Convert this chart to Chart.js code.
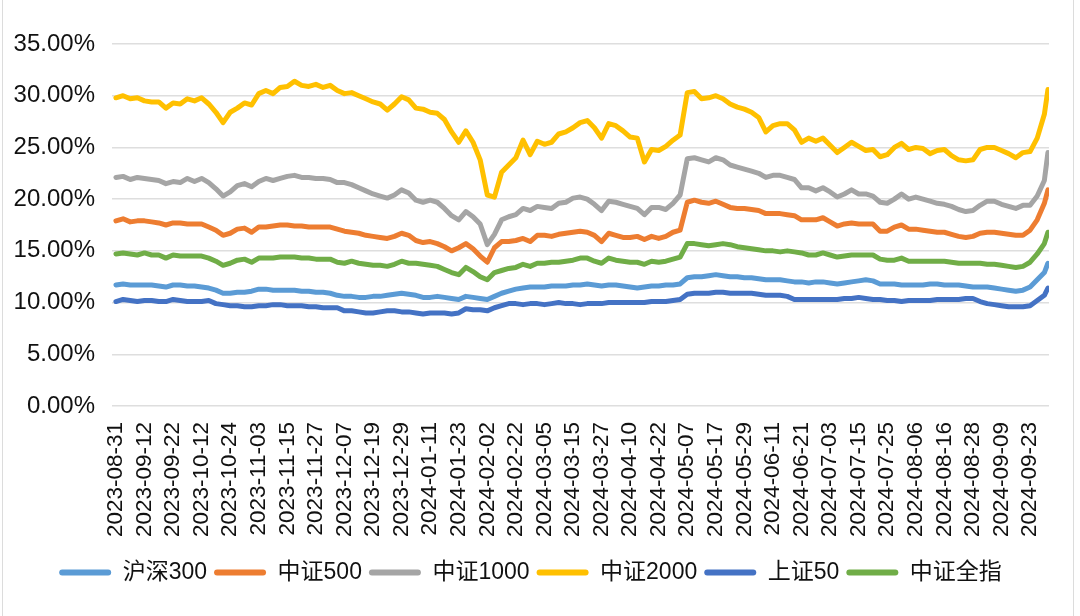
<!DOCTYPE html>
<html>
<head>
<meta charset="utf-8">
<script src="https://cdn.jsdelivr.net/npm/chart.js@4.4.1/dist/chart.umd.min.js"></script>
<style>
  html, body { margin: 0; padding: 0; background: #fff; }
  #wrap { position: relative; width: 1080px; height: 616px; }
  #frame { position: absolute; left: 2px; top: 0; width: 1070px; height: 616px;
           border-left: 1.5px solid #dcdcdc; border-right: 1.5px solid #dcdcdc; pointer-events: none; }
  canvas { position: absolute; left: 0; top: 0; }
</style>
</head>
<body>
<div id="wrap">
  <canvas id="myChart" width="1080" height="616"></canvas>
  <div id="frame"></div>
</div>
<script>
// tick labels, one every 8 trading days
const dateLabels = ['2023-08-31','2023-09-12','2023-09-22','2023-10-12','2023-10-24','2023-11-03',
  '2023-11-15','2023-11-27','2023-12-07','2023-12-19','2023-12-29','2024-01-11','2024-01-23',
  '2024-02-02','2024-02-22','2024-03-05','2024-03-15','2024-03-27','2024-04-10','2024-04-22',
  '2024-05-07','2024-05-17','2024-05-29','2024-06-11','2024-06-21','2024-07-03','2024-07-15',
  '2024-07-25','2024-08-06','2024-08-16','2024-08-28','2024-09-09','2024-09-23'];

const seriesNames = ['沪深300', '中证500', '中证1000', '中证2000', '上证50', '中证全指'];
const seriesColors = ['#5B9BD5', '#ED7D31', '#A5A5A5', '#FFC000', '#4472C4', '#70AD47'];

// values (%) read every 2 trading days, last one is 2024-09-30
const hs300 = [11.7,11.8,11.7,11.7,11.7,11.7,11.6,11.5,11.7,11.7,
  11.6,11.6,11.5,11.4,11.2,10.9,10.9,11.0,11.0,11.1,
  11.3,11.3,11.2,11.2,11.2,11.2,11.1,11.1,11.0,11.0,
  10.9,10.7,10.6,10.6,10.5,10.5,10.6,10.6,10.7,10.8,
  10.9,10.8,10.7,10.5,10.5,10.6,10.5,10.4,10.3,10.6,
  10.5,10.4,10.3,10.6,10.9,11.1,11.3,11.4,11.5,11.5,
  11.5,11.6,11.6,11.6,11.7,11.7,11.8,11.7,11.6,11.7,
  11.7,11.6,11.5,11.4,11.5,11.6,11.6,11.7,11.7,11.8,
  12.4,12.5,12.5,12.6,12.7,12.6,12.5,12.5,12.4,12.4,
  12.3,12.2,12.2,12.2,12.1,12.0,12.0,11.9,12.0,12.0,
  11.9,11.8,11.9,12.0,12.1,12.2,12.1,11.8,11.8,11.8,
  11.7,11.7,11.7,11.7,11.8,11.8,11.7,11.7,11.7,11.6,
  11.5,11.5,11.5,11.4,11.3,11.2,11.1,11.2,11.5,12.2,
  12.9,13.8];

const zz500 = [17.9,18.1,17.8,17.9,17.9,17.8,17.7,17.5,17.7,17.7,
  17.6,17.6,17.6,17.3,17.0,16.5,16.7,17.1,17.2,16.8,
  17.3,17.3,17.4,17.5,17.5,17.4,17.4,17.3,17.3,17.3,
  17.3,17.1,16.9,16.8,16.7,16.5,16.4,16.3,16.2,16.4,
  16.7,16.5,16.0,15.8,15.9,15.7,15.4,15.0,15.3,15.7,
  15.2,14.5,13.9,15.3,15.9,15.9,16.0,16.2,15.9,16.5,
  16.5,16.4,16.6,16.7,16.8,16.9,16.8,16.5,15.9,16.7,
  16.5,16.3,16.3,16.4,16.1,16.4,16.2,16.4,16.8,17.0,
  19.7,19.9,19.7,19.6,19.8,19.5,19.2,19.1,19.1,19.0,
  18.9,18.6,18.6,18.6,18.5,18.4,18.0,18.0,18.0,18.2,
  17.8,17.4,17.6,17.7,17.6,17.6,17.6,16.9,16.9,17.3,
  17.5,17.1,17.1,17.0,16.9,16.8,16.8,16.6,16.4,16.3,
  16.4,16.7,16.8,16.8,16.7,16.6,16.5,16.5,17.0,18.0,
  19.6,20.9];

const zz1000 = [22.1,22.2,21.9,22.1,22.0,21.9,21.8,21.5,21.7,21.6,
  22.0,21.7,22.0,21.6,21.0,20.3,20.7,21.3,21.5,21.2,
  21.7,22.0,21.8,22.0,22.2,22.3,22.1,22.1,22.0,22.0,
  21.9,21.6,21.6,21.4,21.1,20.8,20.5,20.3,20.1,20.4,
  20.9,20.6,19.9,19.7,19.9,19.7,19.1,18.4,18.0,18.8,
  18.3,17.6,15.6,16.6,18.0,18.3,18.5,19.1,18.9,19.3,
  19.2,19.1,19.6,19.7,20.1,20.2,20.0,19.5,18.9,19.8,
  19.7,19.5,19.3,19.1,18.5,19.2,19.2,19.0,19.6,20.4,
  23.9,24.0,23.8,23.6,24.0,23.8,23.3,23.1,22.9,22.7,
  22.5,22.1,22.3,22.3,22.1,21.9,21.1,21.1,20.8,21.1,
  20.7,20.2,20.5,20.9,20.5,20.5,20.3,19.7,19.6,20.0,
  20.5,20.0,20.2,20.0,19.8,19.6,19.5,19.3,19.0,18.8,
  18.9,19.4,19.8,19.8,19.5,19.3,19.1,19.4,19.4,20.3,
  21.8,24.5];

const zz2000 = [29.8,30.0,29.7,29.8,29.5,29.4,29.4,28.8,29.3,29.2,
  29.7,29.5,29.8,29.2,28.4,27.4,28.4,28.8,29.3,29.1,
  30.2,30.5,30.2,30.8,30.9,31.4,31.0,30.9,31.1,30.8,
  31.0,30.5,30.2,30.3,30.0,29.7,29.4,29.2,28.6,29.2,
  29.9,29.6,28.8,28.7,28.4,28.3,27.7,26.5,25.5,26.6,
  25.5,23.8,20.4,20.2,22.6,23.3,24.0,25.7,24.3,25.6,
  25.3,25.5,26.3,26.5,26.9,27.4,27.6,26.9,25.9,27.3,
  27.1,26.6,26.0,25.9,23.6,24.8,24.7,25.1,25.7,26.2,
  30.3,30.4,29.7,29.8,30.0,29.7,29.2,28.9,28.7,28.4,
  27.9,26.5,27.1,27.3,27.3,26.7,25.5,25.9,25.6,25.9,
  25.2,24.5,25.0,25.5,25.1,24.7,24.8,24.1,24.3,25.0,
  25.4,24.8,25.0,24.9,24.4,24.7,24.8,24.2,23.8,23.7,
  23.8,24.8,25.0,25.0,24.7,24.4,24.0,24.5,24.6,25.9,
  28.2,30.6];

const sz50 = [10.1,10.3,10.2,10.1,10.2,10.2,10.1,10.1,10.3,10.2,
  10.1,10.1,10.1,10.2,9.9,9.8,9.7,9.7,9.6,9.6,
  9.7,9.7,9.8,9.8,9.7,9.7,9.7,9.6,9.6,9.5,
  9.5,9.5,9.2,9.2,9.1,9.0,9.0,9.1,9.2,9.2,
  9.1,9.1,9.0,8.9,9.0,9.0,9.0,8.9,9.0,9.4,
  9.3,9.3,9.2,9.5,9.7,9.9,9.9,9.8,9.9,9.9,
  9.8,9.9,10.0,9.9,9.9,9.8,9.9,9.9,9.9,10.0,
  10.0,10.0,10.0,10.0,10.0,10.1,10.1,10.1,10.2,10.3,
  10.8,10.9,10.9,10.9,11.0,11.0,10.9,10.9,10.9,10.9,
  10.8,10.7,10.7,10.7,10.6,10.3,10.3,10.3,10.3,10.3,
  10.3,10.3,10.4,10.4,10.5,10.4,10.3,10.3,10.2,10.2,
  10.1,10.2,10.2,10.2,10.2,10.3,10.3,10.3,10.3,10.4,
  10.4,10.1,9.9,9.8,9.7,9.6,9.6,9.6,9.7,10.2,
  10.7,11.4];

const zzqz = [14.7,14.8,14.7,14.6,14.8,14.6,14.6,14.3,14.6,14.5,
  14.5,14.5,14.5,14.3,14.0,13.6,13.8,14.1,14.2,13.9,
  14.3,14.3,14.3,14.4,14.4,14.4,14.3,14.3,14.2,14.2,
  14.2,13.9,13.8,14.0,13.8,13.7,13.6,13.6,13.5,13.7,
  14.0,13.8,13.8,13.7,13.6,13.5,13.2,12.9,12.7,13.4,
  13.0,12.5,12.2,12.9,13.1,13.3,13.4,13.7,13.5,13.8,
  13.8,13.9,13.9,14.0,14.1,14.3,14.3,14.0,13.8,14.3,
  14.1,14.0,13.9,13.9,13.7,14.0,13.9,14.0,14.2,14.4,
  15.7,15.7,15.6,15.5,15.6,15.7,15.6,15.4,15.3,15.2,
  15.1,15.0,15.0,14.9,15.0,14.9,14.8,14.6,14.6,14.8,
  14.6,14.4,14.5,14.6,14.6,14.6,14.6,14.2,14.1,14.1,
  14.3,14.0,14.0,14.0,14.0,14.0,14.0,13.9,13.8,13.8,
  13.8,13.8,13.7,13.7,13.6,13.5,13.4,13.5,13.9,14.7,
  15.7,16.8];

const allSeries = [hs300, zz500, zz1000, zz2000, sz50, zzqz];
const step = 2;       // trading days between readings
const lastDay = 261;  // 2024-09-30
const labelEvery = 8;

const fontFamily = "'Liberation Sans', Arial, 'Noto Sans CJK SC', sans-serif";

const datasets = allSeries.map((vals, k) => ({
  label: seriesNames[k],
  data: vals.map((v, i) => ({ x: Math.min(i * step, lastDay), y: v })),
  borderColor: seriesColors[k],
  backgroundColor: seriesColors[k],
  borderWidth: 5,
  pointRadius: 0,
  tension: 0,
  borderJoinStyle: 'round',
  borderCapStyle: 'round'
}));

const config = {
  type: 'line',
  data: { datasets: datasets },
  options: {
    responsive: false,
    animation: false,
    layout: { padding: { left: 12, top: 44, right: 31, bottom: 22 } },
    plugins: {
      tooltip: { enabled: false },
      legend: {
        position: 'bottom',
        labels: {
          color: '#111',
          font: { family: fontFamily, size: 23 },
          boxWidth: 52,
          boxHeight: 6,
          padding: 7,
          generateLabels: chart => chart.data.datasets.map((ds, i) => ({
            text: ds.label,
            fillStyle: ds.borderColor,
            strokeStyle: ds.borderColor,
            lineWidth: 0,
            borderRadius: 3,
            fontColor: '#111',
            datasetIndex: i
          }))
        }
      }
    },
    scales: {
      x: {
        type: 'linear',
        min: -1.1,
        max: 261.3,
        grid: { display: false },
        border: { display: false },
        afterBuildTicks: scale => {
          scale.ticks = dateLabels.map((_, k) => ({ value: k * labelEvery }));
        },
        afterFit: scale => { scale.height = 148; },
        ticks: {
          autoSkip: false,
          minRotation: 90,
          maxRotation: 90,
          padding: 8,
          color: '#111',
          font: { family: fontFamily, size: 22.5 },
          callback: value => dateLabels[Math.round(value / labelEvery)]
        }
      },
      y: {
        min: 0,
        max: 35,
        afterFit: scale => { scale.width = 100; },
        grid: { color: '#dedede', lineWidth: 1.5, drawTicks: false },
        border: { display: false },
        ticks: {
          stepSize: 5,
          padding: 17,
          color: '#111',
          font: { family: fontFamily, size: 24 },
          callback: v => v.toFixed(2) + '%'
        }
      }
    }
  }
};

const myChart = new Chart(document.getElementById('myChart'), config);
</script>
</body>
</html>
